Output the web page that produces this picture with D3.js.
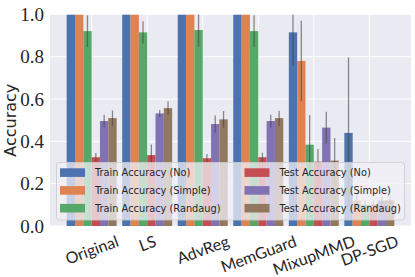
<!DOCTYPE html>
<html>
<head>
<meta charset="utf-8">
<script src="https://cdn.jsdelivr.net/npm/d3@7"></script>
<style>
  body { margin: 0; background: #fff; }
  svg { display: block; }
</style>
</head>
<body>
<svg id="chart" width="415" height="277"></svg>
<script>
const categories = ["Original", "LS", "AdvReg", "MemGuard", "MixupMMD", "DP-SGD"];
const seriesNames = [
  "Train Accuracy (No)", "Train Accuracy (Simple)", "Train Accuracy (Randaug)",
  "Test Accuracy (No)", "Test Accuracy (Simple)", "Test Accuracy (Randaug)"
];
const colors = ["#4c72b0", "#dd8452", "#55a868", "#c44e52", "#8172b3", "#937860"];

// mean values per series, one entry per category
const trainNo      = [1.0, 1.0, 1.0, 1.0, 0.915, 0.44];
const trainSimple  = [1.0, 1.0, 1.0, 1.0, 0.78, 0.12];
const trainRandaug = [0.921, 0.915, 0.926, 0.921, 0.384, 0.10];
const testNo       = [0.325, 0.335, 0.32, 0.325, 0.304, 0.10];
const testSimple   = [0.496, 0.532, 0.482, 0.496, 0.465, 0.12];
const testRandaug  = [0.51, 0.557, 0.504, 0.51, 0.309, 0.12];

// error half-widths
const errTrainNo      = [0, 0, 0, 0, 0.155, 0.357];
const errTrainSimple  = [0, 0, 0, 0, 0.19, 0.03];
const errTrainRandaug = [0.075, 0.053, 0.079, 0.075, 0.141, 0.02];
const errTestNo       = [0.02, 0.05, 0.02, 0.021, 0.06, 0.02];
const errTestSimple   = [0.03, 0.016, 0.04, 0.03, 0.075, 0.02];
const errTestRandaug  = [0.036, 0.033, 0.039, 0.035, 0.107, 0.02];

const yTicks = [0, 0.2, 0.4, 0.6, 0.8, 1.0];

const values = [trainNo, trainSimple, trainRandaug, testNo, testSimple, testRandaug];
const errors = [errTrainNo, errTrainSimple, errTrainRandaug, errTestNo, errTestSimple, errTestRandaug];

const svg = d3.select("#chart");
const pLeft = 50, pRight = 411, pTop = 14.4, pBottom = 226;

const x = d3.scaleBand()
  .domain(categories)
  .range([pLeft, pRight])
  .paddingInner(0.1)
  .paddingOuter(0.3);
const xHue = d3.scaleBand()
  .domain(d3.range(seriesNames.length))
  .range([0, x.bandwidth()]);
const y = d3.scaleLinear().domain([0, 1]).range([pBottom, pTop]);

svg.append("defs").append("clipPath").attr("id", "plotclip")
  .append("rect")
  .attr("x", pLeft).attr("y", pTop)
  .attr("width", pRight - pLeft).attr("height", pBottom - pTop);

svg.append("rect")
  .attr("x", pLeft).attr("y", pTop)
  .attr("width", pRight - pLeft).attr("height", pBottom - pTop)
  .attr("fill", "#eaeaf2");

// grid
svg.append("g").selectAll("line").data(yTicks).enter().append("line")
  .attr("x1", pLeft).attr("x2", pRight)
  .attr("y1", d => y(d)).attr("y2", d => y(d))
  .attr("stroke", "#fff").attr("stroke-width", 1);
svg.append("g").selectAll("line").data(categories).enter().append("line")
  .attr("x1", d => x(d) + x.bandwidth() / 2).attr("x2", d => x(d) + x.bandwidth() / 2)
  .attr("y1", pTop).attr("y2", pBottom)
  .attr("stroke", "#fff").attr("stroke-width", 1);

const plot = svg.append("g").attr("clip-path", "url(#plotclip)");

const cells = [];
values.forEach((arr, s) => {
  arr.forEach((v, c) => {
    cells.push({ s: s, c: c, v: v, e: errors[s][c] });
  });
});

plot.selectAll(".bar").data(cells).enter().append("rect")
  .attr("class", "bar")
  .attr("x", d => x(categories[d.c]) + xHue(d.s))
  .attr("width", xHue.bandwidth())
  .attr("y", d => y(d.v))
  .attr("height", d => pBottom - y(d.v))
  .attr("fill", d => colors[d.s]);

plot.selectAll(".err").data(cells.filter(d => d.e > 0)).enter().append("line")
  .attr("class", "err")
  .attr("x1", d => x(categories[d.c]) + xHue(d.s) + xHue.bandwidth() / 2)
  .attr("x2", d => x(categories[d.c]) + xHue(d.s) + xHue.bandwidth() / 2)
  .attr("y1", d => y(d.v - d.e))
  .attr("y2", d => y(d.v + d.e))
  .attr("stroke", "#424242")
  .attr("stroke-opacity", 0.6)
  .attr("stroke-width", 1.3);

// y ticks
svg.append("g").selectAll("text").data(yTicks).enter().append("text")
  .attr("x", 44)
  .attr("y", d => y(d))
  .attr("text-anchor", "end")
  .attr("dominant-baseline", "central")
  .attr("font-family", "Liberation Serif")
  .attr("font-size", 19)
  .attr("fill", "#262626")
  .text(d => d.toFixed(1));

svg.append("text")
  .attr("transform", "translate(16," + ((pTop + pBottom) / 2) + ") rotate(-90)")
  .attr("text-anchor", "middle")
  .attr("font-family", "DejaVu Sans")
  .attr("font-size", 16)
  .attr("fill", "#262626")
  .text("Accuracy");

// x tick labels rotated
const ang = 20 * Math.PI / 180;
const xfs = 16;
svg.append("g").selectAll("text").data(categories).enter().append("text")
  .attr("text-anchor", "middle")
  .attr("dominant-baseline", "central")
  .attr("font-family", "Lato")
  .attr("font-size", xfs)
  .attr("fill", "#262626")
  .text(d => d)
  .each(function(d) {
    const w = this.getComputedTextLength();
    const h = xfs * 0.9;
    const H = w * Math.sin(ang) + h * Math.cos(ang);
    const cx = x(d) + x.bandwidth() / 2;
    const cy = 233 + H / 2;
    d3.select(this).attr("transform", "translate(" + cx + "," + cy + ") rotate(-20)");
  });

// legend
const lg = svg.append("g");
lg.append("rect")
  .attr("x", 56.5).attr("y", 162.5)
  .attr("width", 348).attr("height", 57.5)
  .attr("rx", 3)
  .attr("fill", "#f0f0f6").attr("fill-opacity", 0.75)
  .attr("stroke", "#cccccc").attr("stroke-opacity", 0.8);

const legendItems = seriesNames.map((n, i) => ({ name: n, i: i }));
const colX = [60, 244.5];
const rowY = [172.6, 190.4, 208.2];
const item = lg.selectAll(".li").data(legendItems).enter().append("g")
  .attr("transform", d => "translate(" + colX[Math.floor(d.i / 3)] + "," + rowY[d.i % 3] + ")");
item.append("rect")
  .attr("x", 0).attr("y", -4.3)
  .attr("width", 25).attr("height", 8.6)
  .attr("fill", d => colors[d.i]);
item.append("text")
  .attr("x", 35).attr("y", 0)
  .attr("dominant-baseline", "central")
  .attr("font-family", "DejaVu Sans")
  .attr("font-size", 9.8)
  .attr("fill", "#262626")
  .text(d => d.name);
</script>
</body>
</html>
